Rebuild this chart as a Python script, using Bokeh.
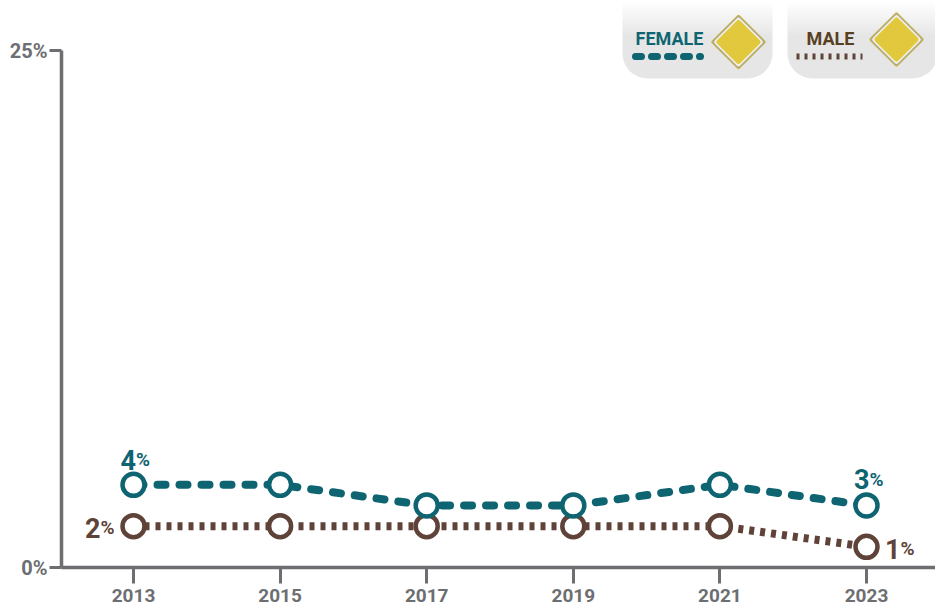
from bokeh.plotting import figure
from bokeh.models import Range1d, Label, BoxAnnotation, FixedTicker
from bokeh.embed import file_html
from bokeh.resources import INLINE

years = [2013, 2015, 2017, 2019, 2021, 2023]
female = [4, 4, 3, 3, 4, 3]
male = [2, 2, 2, 2, 2, 1]
y_ticks = [0, 25]

TEAL = "#0f6472"
BROWN = "#5f4339"
GREY = "#6d6e71"
FONT = "Roboto"
LABEL_SHIFT = 8

W, H = 935, 605
L, B = 61, 38
PY = (567 - 50) / 25
PX = (866 - 133) / 10

p = figure(width=W, height=H, output_backend="svg", toolbar_location=None,
           x_range=Range1d(2013 - (133 - L) / PX, 2023 + (W - 866) / PX),
           y_range=Range1d(0, 567 / PY),
           min_border_left=L, min_border_right=0, min_border_top=0, min_border_bottom=B,
           outline_line_color=None, background_fill_color="white", border_fill_color="white")
p.grid.visible = False


def dx(px):
    return 2013 + (px - 133) / PX


def dy(py):
    return (567 - py) / PY


# axes
ax = p.xaxis[0]
ax.ticker = FixedTicker(ticks=years)
ax.major_label_overrides = {y: str(y) for y in years}
ax.axis_line_color = GREY
ax.axis_line_width = 3.5
ax.major_tick_line_color = GREY
ax.major_tick_line_width = 3
ax.major_tick_out = 16
ax.major_tick_in = 0
ax.minor_tick_line_color = None
ax.major_label_text_font = FONT
ax.major_label_text_font_style = "bold"
ax.major_label_text_font_size = "19px"
ax.major_label_text_color = GREY
ax.major_label_standoff = 5

ay = p.yaxis[0]
ay.ticker = FixedTicker(ticks=y_ticks)
ay.bounds = (0, 25)
ay.axis_line_color = GREY
ay.axis_line_width = 3.5
ay.major_tick_line_color = GREY
ay.major_tick_line_width = 3
ay.major_tick_out = 12
ay.major_tick_in = 0
ay.minor_tick_line_color = None
ay.major_label_overrides = {t: f"{t}%" for t in y_ticks}
ay.major_label_text_font = FONT
ay.major_label_text_font_style = "bold"
ay.major_label_text_font_size = "20px"
ay.major_label_text_color = GREY
ay.major_label_standoff = 2


def pct(x, y, text, color, sep_dx, base_dy, size=27, small=19):
    common = dict(x=x, y=y, y_offset=base_dy + LABEL_SHIFT, text_font=FONT,
                  text_color=color, text_baseline="alphabetic")
    p.add_layout(Label(text=text, x_offset=sep_dx, text_align="right",
                       text_font_style="bold", text_font_size=f"{size}px", **common))
    p.add_layout(Label(text="%", x_offset=sep_dx, text_align="left",
                       text_font_style="bold", text_font_size=f"{small}px", **common))


# legend panels
for left, right in [(622, 772), (787, 937)]:
    n = 14
    for i in range(n):
        t = i / n
        g = int(255 - (255 - 230) * t)
        col = f"#{g:02x}{g:02x}{min(g + 1, 255):02x}"
        p.add_layout(BoxAnnotation(left=dx(left), right=dx(right), top=dy(i * 2.5), bottom=dy((i + 1) * 2.5 + 0.5),
                                   fill_color=col, fill_alpha=1, line_color=None, level="underlay"))
    p.add_layout(BoxAnnotation(left=dx(left), right=dx(right), top=dy(35), bottom=dy(78),
                               fill_color="#e6e6e7", fill_alpha=1, line_color=None, level="underlay",
                               border_radius=(0, 0, 25, 25)))

# legend diamonds
for cx, cy in [(738, 41.5), (896, 39)]:
    for s, col in [(35.5, "#c8b44a"), (33.5, "#a9a9a2"), (31.5, "#f4f2e6"), (28.5, "#e1c83c")]:
        p.scatter([dx(cx)], [dy(cy)], marker="square", size=s, angle=0.7854,
                  fill_color=col, line_color=col, line_width=4, line_join="round")

# legend labels and samples
p.add_layout(Label(x=dx(635), y=dy(46), y_offset=LABEL_SHIFT, text="FEMALE", text_font=FONT,
                   text_font_style="bold", text_font_size="18px", text_color=TEAL, text_baseline="alphabetic"))
p.add_layout(Label(x=dx(806), y=dy(46), y_offset=LABEL_SHIFT, text="MALE", text_font=FONT,
                   text_font_style="bold", text_font_size="18px", text_color="#5a4022", text_baseline="alphabetic"))
p.line([dx(635), dx(700)], [dy(56), dy(56)], line_color=TEAL, line_width=7,
       line_dash="6 10", line_cap="round")
p.line([dx(796), dx(862)], [dy(56), dy(56)], line_color=BROWN, line_width=6,
       line_dash="3 5", line_cap="butt")

# series
p.line(years, male, line_color=BROWN, line_width=8, line_dash="5 6", line_cap="butt")
p.line(years, female, line_color=TEAL, line_width=8, line_dash="8 14", line_cap="round", line_dash_offset=-2)
p.scatter(years, male, marker="circle", size=22, fill_color="white", line_color=BROWN, line_width=4.5)
p.scatter(years, female, marker="circle", size=22, fill_color="white", line_color=TEAL, line_width=4.5)

# value labels
pct(years[0], female[0], str(female[0]), TEAL, 2.5, 17)
pct(years[-1], female[-1], str(female[-1]), TEAL, 3, 18)
pct(years[0], male[0], str(male[0]), BROWN, -33, -9.5)
pct(years[-1], male[-1], str(male[-1]), BROWN, 34, -10)

open("out.html", "w").write(file_html(p, INLINE))
